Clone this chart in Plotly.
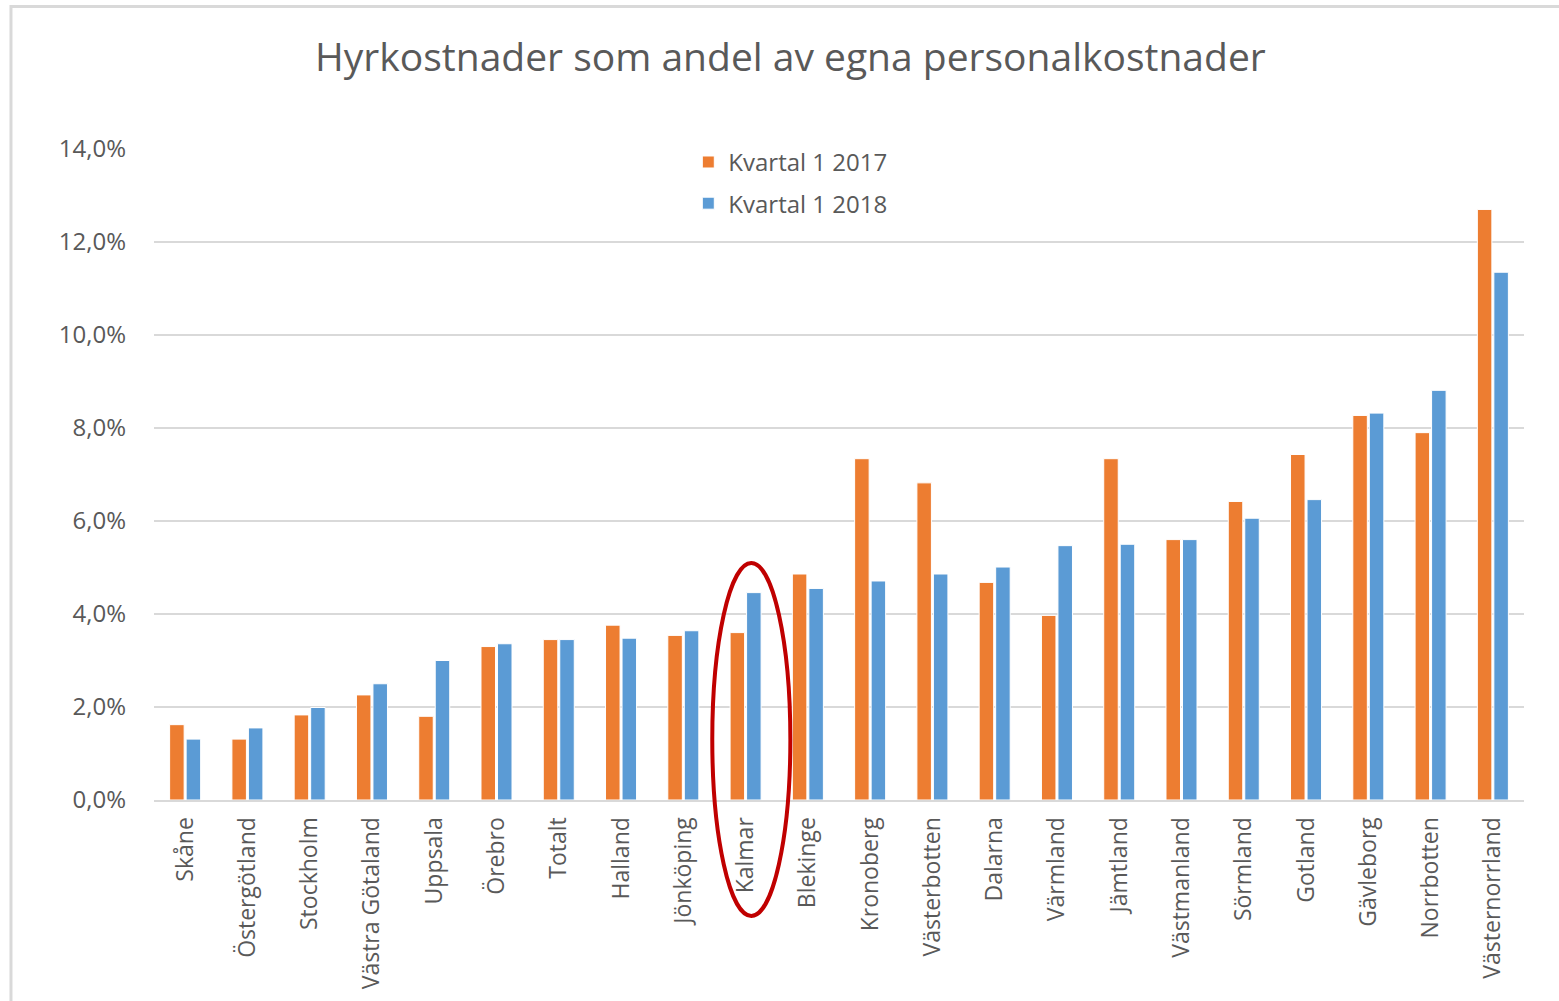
import plotly.graph_objects as go

# Rental costs as a share of own staff costs, per region (percent)
regions = ["Skåne", "Östergötland", "Stockholm", "Västra Götaland", "Uppsala", "Örebro",
           "Totalt", "Halland", "Jönköping", "Kalmar", "Blekinge", "Kronoberg",
           "Västerbotten", "Dalarna", "Värmland", "Jämtland", "Västmanland", "Sörmland",
           "Gotland", "Gävleborg", "Norrbotten", "Västernorrland"]
q1_2017 = [1.62, 1.31, 1.83, 2.26, 1.80, 3.30, 3.45, 3.76, 3.54, 3.60, 4.86, 7.34,
           6.82, 4.68, 3.97, 7.34, 5.60, 6.42, 7.43, 8.27, 7.90, 12.70]
q1_2018 = [1.31, 1.55, 1.99, 2.50, 3.00, 3.36, 3.45, 3.48, 3.64, 4.46, 4.55, 4.71,
           4.86, 5.01, 5.47, 5.50, 5.60, 6.06, 6.46, 8.32, 8.81, 11.35]
series_names = ["Kvartal 1 2017", "Kvartal 1 2018"]
y_ticks = [0, 2, 4, 6, 8, 10, 12, 14]
y_tick_text = [f"{v:.1f}".replace(".", ",") + "%" for v in y_ticks]

ORANGE = "#ED7D31"
BLUE = "#5B9BD5"
GREY_TEXT = "#595959"
GRID = "#D9D9D9"
FONT = "Open Sans"

fig = go.Figure()
for name, vals, col, grp in [(series_names[0], q1_2017, ORANGE, "a"),
                             (series_names[1], q1_2018, BLUE, "b")]:
    fig.add_trace(go.Bar(
        x=regions, y=vals, name=name, legendgroup=grp,
        marker=dict(color=col, line=dict(color="white", width=1)),
    ))

fig.update_layout(
    width=1559, height=1001,
    margin=dict(l=154, r=35, t=149, b=201, autoexpand=False),
    paper_bgcolor="white", plot_bgcolor="white",
    font=dict(family=FONT, color=GREY_TEXT, size=22),
    barmode="group", bargap=0.47, bargroupgap=0.12,
    title=dict(text="Hyrkostnader som andel av egna personalkostnader",
               x=0.507, xanchor="center", y=0.943, yanchor="middle", yref="container",
               font=dict(family=FONT, size=39, color=GREY_TEXT)),
    legend=dict(x=0.39, y=1.014, xanchor="left", yanchor="top",
                bgcolor="rgba(0,0,0,0)", font=dict(size=24, color=GREY_TEXT),
                traceorder="grouped", tracegroupgap=7, itemwidth=30),
    xaxis=dict(tickangle=-90, showgrid=False, showline=True, linecolor=GRID,
               linewidth=2, ticks="", tickfont=dict(size=23, color=GREY_TEXT),
               ticklabelstandoff=6),
    yaxis=dict(range=[0, 14], tickmode="array", tickvals=y_ticks, ticktext=y_tick_text,
               showgrid=True, gridcolor=GRID, gridwidth=2, zeroline=False,
               showline=False, ticks="", tickfont=dict(size=24, color=GREY_TEXT),
               ticklabelstandoff=27),
    shapes=[
        # outer chart frame
        dict(type="rect", xref="paper", yref="paper", x0=-0.1044, x1=1.04,
             y0=-0.33, y1=1.219, line=dict(color=GRID, width=3), layer="below"),
        # highlight around Kalmar
        dict(type="circle", xref="paper", yref="paper", x0=0.4075, x1=0.4645,
             y0=-0.178, y1=0.364, line=dict(color="#C00000", width=4)),
    ],
)

fig.write_html("out.html")
